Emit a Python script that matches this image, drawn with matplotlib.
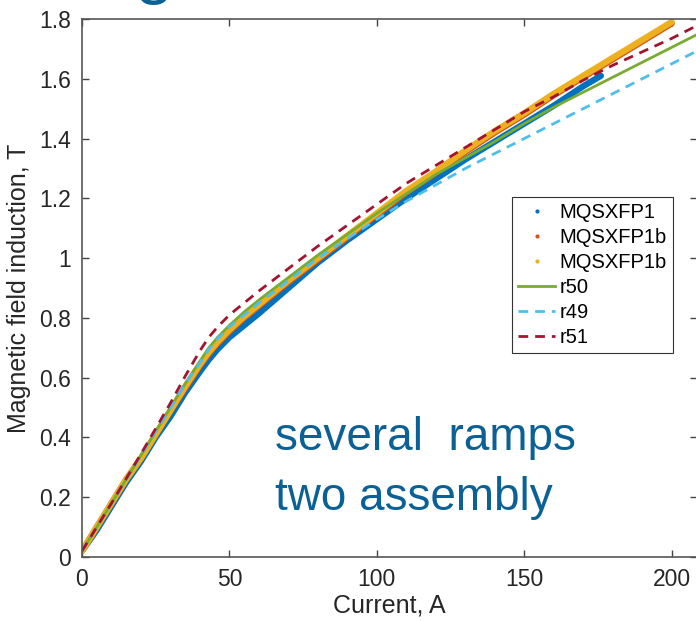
import matplotlib
matplotlib.use("Agg")
import matplotlib.pyplot as plt
from matplotlib.lines import Line2D
from matplotlib.ticker import FormatStrFormatter

plt.rcParams['font.family'] = ['Liberation Sans', 'DejaVu Sans']

# measured ramps (current A, field T)
I_p1 = [0, 5, 10, 15, 20, 25, 30, 35, 40, 43, 46, 50, 55, 60, 70, 80, 90, 100,
        110, 120, 130, 140, 150, 160, 170, 176]
B_p1 = [0.02, 0.09, 0.17, 0.25, 0.32, 0.40, 0.47, 0.55, 0.62, 0.66, 0.695,
        0.735, 0.775, 0.815, 0.90, 0.985, 1.06, 1.13, 1.20, 1.265, 1.33, 1.39,
        1.45, 1.51, 1.575, 1.61]

I_p1b = [0, 5, 10, 15, 20, 25, 30, 35, 40, 43, 46, 50, 55, 60, 70, 80, 90, 100,
         110, 120, 130, 140, 150, 160, 170, 180, 190, 200]
B_p1b_a = [0.02, 0.10, 0.18, 0.26, 0.33, 0.41, 0.49, 0.565, 0.64, 0.68, 0.715,
           0.755, 0.80, 0.84, 0.92, 0.995, 1.07, 1.145, 1.22, 1.285, 1.355, 1.42,
           1.48, 1.545, 1.605, 1.665, 1.725, 1.785]
B_p1b_b = [0.02, 0.10, 0.18, 0.26, 0.33, 0.41, 0.49, 0.57, 0.645, 0.685, 0.72,
           0.76, 0.805, 0.845, 0.925, 1.0, 1.075, 1.15, 1.225, 1.29, 1.36, 1.425,
           1.485, 1.55, 1.61, 1.67, 1.73, 1.79]

# calculations
I_r = [0, 10, 20, 30, 35, 40, 43, 46, 50, 55, 60, 70, 80, 90, 100, 110, 120,
       130, 140, 150, 160, 170, 180, 190, 200, 210]
B_r50 = [0.02, 0.18, 0.34, 0.50, 0.58, 0.655, 0.70, 0.735, 0.775, 0.82, 0.86,
         0.935, 1.01, 1.08, 1.15, 1.215, 1.28, 1.335, 1.39, 1.45, 1.505, 1.555,
         1.605, 1.655, 1.705, 1.755]
B_r49 = [0.02, 0.18, 0.34, 0.50, 0.58, 0.65, 0.695, 0.73, 0.77, 0.81, 0.85,
         0.925, 1.0, 1.065, 1.13, 1.19, 1.245, 1.30, 1.35, 1.40, 1.45, 1.50,
         1.55, 1.60, 1.65, 1.70]
B_r51 = [0.02, 0.18, 0.345, 0.515, 0.605, 0.69, 0.735, 0.77, 0.81, 0.85, 0.89,
         0.965, 1.04, 1.11, 1.18, 1.25, 1.31, 1.37, 1.43, 1.49, 1.54, 1.595,
         1.645, 1.69, 1.735, 1.785]

names = ['MQSXFP1', 'MQSXFP1b', 'MQSXFP1b', 'r50', 'r49', 'r51']
colors = ['#0072BD', '#D95319', '#EDB120', '#77AC30', '#4DBEEE', '#A2142F']

fig = plt.figure(figsize=(6.96, 6.21), dpi=100)
ax = fig.add_axes([82/696, 64/621, 615/696, 538/621])

ax.plot(I_p1, B_p1, color=colors[0], lw=4.5, solid_capstyle='round')
ax.plot(I_p1b, B_p1b_a, color=colors[1], lw=4.5, solid_capstyle='round')
ax.plot(I_p1b, B_p1b_b, color=colors[2], lw=4.5, solid_capstyle='round')
ax.plot(I_r, B_r50, color=colors[3], lw=2)
ax.plot(I_r, B_r49, color=colors[4], lw=2, dashes=(3.5, 2.5))
ax.plot(I_r, B_r51, color=colors[5], lw=2, dashes=(3.5, 2.5))

ax.set_xlim(0, 208.6)
ax.set_ylim(0, 1.8)
ax.set_xticks([0, 50, 100, 150, 200])
ax.set_yticks([0, 0.2, 0.4, 0.6, 0.8, 1.0, 1.2, 1.4, 1.6, 1.8])
ax.yaxis.set_major_formatter(FormatStrFormatter('%g'))
ax.tick_params(direction='in', top=True, right=True, length=5, width=1,
               labelsize=16.5, colors='#444444', labelcolor='#262626')
ax.tick_params(axis='x', pad=8)
ax.tick_params(axis='y', pad=8)
for s in ax.spines.values():
    s.set_color('#555555')
    s.set_linewidth(1.2)

ax.set_xlabel('Current, A', fontsize=18, color='#262626', labelpad=2)
ax.set_ylabel('Magnetic field induction, T', fontsize=18, color='#262626',
              labelpad=6)

# legend: dots for measurements, lines for calculations
handles = [Line2D([], [], ls='none', marker='.', ms=4, color=colors[0]),
           Line2D([], [], ls='none', marker='.', ms=4, color=colors[1]),
           Line2D([], [], ls='none', marker='.', ms=4, color=colors[2]),
           Line2D([], [], color=colors[3], lw=2),
           Line2D([], [], color=colors[4], lw=2, dashes=(3.5, 2.5)),
           Line2D([], [], color=colors[5], lw=2, dashes=(3.5, 2.5))]
leg = ax.legend(handles, names, loc='upper right',
                bbox_to_anchor=(673/696, 1 - 197/621),
                bbox_transform=fig.transFigure, borderaxespad=0,
                fontsize=14.5, fancybox=False, framealpha=1, edgecolor='#333333',
                handlelength=1.8, handletextpad=0.25, labelspacing=0.3,
                borderpad=0.3)
leg.get_frame().set_linewidth(0.8)

blue = '#0b6196'
fig.text(275/696, 1 - 450/621, 'several  ramps', fontsize=33, color=blue,
         va='baseline')
fig.text(275/696, 1 - 510/621, 'two assembly', fontsize=33, color=blue,
         va='baseline')
# fragment of the slide title above the figure
fig.text(134/696, 1 + 9/621, 'g', fontsize=50, color=blue, va='baseline')

fig.savefig('out.png', dpi=100)
